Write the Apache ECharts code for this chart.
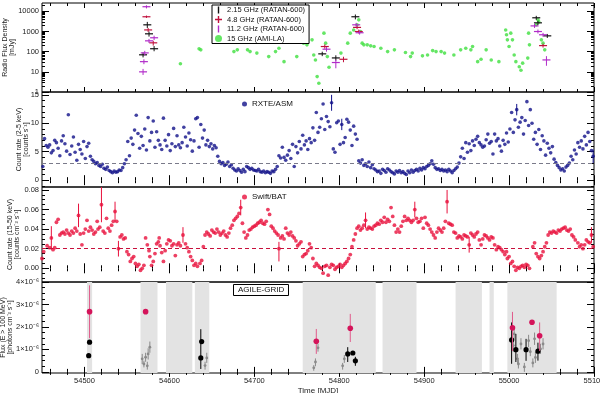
<!DOCTYPE html>
<html>
<head>
  <meta charset="utf-8">
  <title>Multiwavelength light curves</title>
  <script src="https://cdn.jsdelivr.net/npm/echarts@6/dist/echarts.min.js"></script>
  <style>
    body { margin: 0; padding: 0; background: #fff; }
    #main { width: 600px; height: 393px; }
  </style>
</head>
<body>
<div id="main"></div>
<script>
  // ---- time axis ----
  var X_MIN = 54450, X_MAX = 55100;
  var xTicks = [54500, 54600, 54700, 54800, 54900, 55000, 55100];

  // ---- radio: [MJD, flux mJy] and RATAN [MJD, flux, low, high] ----
  var ami15 = [[54613,25],[54635,138],[54637,123],[54676,101],[54680,123],[54692,123],[54695,101],[54703,85],
    [54717,57],[54725,101],[54729,148],[54735,32],[54750,57],[54758,265],[54762,218],[54768,387],[54770,69],
    [54772,39],[54774,5.8],[54776,2.7],[54782,830],[54784,265],[54786,57],[54788,17],[54802,85],[54810,265],
    [54813,830],[54817,1200],[54821,2150],[54823,3800],[54825,1000],[54827,265],[54829,218],[54833,218],
    [54837,195],[54841,180],[54849,148],[54857,101],[54865,123],[54878,91],[54884,57],[54886,85],[54898,62],
    [54904,69],[54910,113],[54914,101],[54920,101],[54924,85],[54935,69],[54943,123],[54949,148],[54955,123],
    [54957,180],[54963,32],[54967,42],[54973,123],[54979,39],[54988,32],[54996,1200],[54997,690],[54998,387],
    [55000,180],[55002,830],[55004,387],[55006,69],[55008,32],[55012,18],[55014,12],[55016,27],[55022,48],
    [55023,830],[55024,218],[55032,2150],[55034,3800],[55035,3000],[55038,387],[55040,265],[55042,123]];
  var ratan2 = [[54569,70,52,92],[54574,2150,1500,3000],[54576,770,560,1000],[54582,140,105,190],
    [54780,78,60,100],[54796,49,36,66],[54819,5400,4000,7000],[55032,4800,3800,6000],[55034,2700,2100,3400],
    [55045,610,480,760]];
  var ratan48 = [[54573,5400,4700,6200],[54575,1200,950,1500],[54581,275,200,350],[54783,180,140,230],
    [54805,42,30,56],[54821,1600,1300,2000],[54823,1000,800,1250],[55040,200,160,250]];
  var ratan112 = [[54569,10,7,14],[54570,32,24,42],[54571,87,65,110],[54573,17000,14000,20000],
    [54576,345,270,430],[54582,490,380,620],[54785,133,100,170],[54796,29,15,40],[54820,2150,1700,2700],
    [54824,870,700,1100],[55030,1900,1500,2400],[55034,1000,800,1250],[55040,690,550,860],[55044,39,20,60]];

  // ---- RXTE/ASM 2-5 keV: [MJD, counts/s] ----
  var asm = [[54451,2.4],[54453,7.3],[54455,6.1],[54457,5.8],[54459,6.2],[54461,4.8],[54463,5.2],[54465,7.0],
    [54467,6.6],[54469,5.6],[54471,4.3],[54473,6.9],[54475,7.8],[54477,6.4],[54479,5.1],[54481,11.5],[54483,4.5],
    [54485,6.0],[54487,7.6],[54489,4.9],[54491,3.5],[54493,6.3],[54495,5.4],[54497,4.6],[54499,6.8],[54501,3.8],
    [54503,5.9],[54505,6.5],[54507,4.2],[54509,3.6],[54511,3.3],[54513,2.9],[54515,3.1],[54517,2.6],[54519,2.4],
    [54521,2.8],[54523,2.1],[54525,1.9],[54527,2.3],[54529,1.7],[54531,1.5],[54533,1.3],[54535,1.6],[54537,1.4],
    [54539,1.5],[54541,1.8],[54543,1.7],[54545,2.2],[54547,2.9],[54549,3.6],[54551,6.8],[54553,4.3],[54555,7.4],
    [54557,6.3],[54559,8.8],[54561,11.4],[54563,8.2],[54565,5.6],[54567,7.7],[54569,6.1],[54571,9.0],[54573,5.3],
    [54575,11.0],[54577,6.9],[54579,8.4],[54581,10.4],[54583,5.8],[54585,8.5],[54587,7.0],[54589,6.2],[54591,5.4],
    [54593,10.9],[54595,7.0],[54597,6.0],[54599,8.0],[54601,5.2],[54603,6.4],[54605,9.1],[54607,5.9],[54609,7.8],
    [54611,6.2],[54613,5.7],[54615,6.6],[54617,9.3],[54619,7.6],[54621,6.0],[54623,8.3],[54625,7.1],[54627,5.1],
    [54629,6.9],[54631,10.8],[54633,11.0],[54635,5.8],[54637,9.8],[54639,7.4],[54641,8.8],[54643,6.2],[54645,7.0],
    [54647,5.9],[54649,6.4],[54651,5.5],[54653,6.1],[54655,5.7],[54657,4.2],[54659,3.3],[54661,2.9],[54663,3.1],
    [54665,2.6],[54667,2.8],[54669,3.2],[54671,2.4],[54673,2.7],[54675,2.1],[54677,1.8],[54679,1.6],[54681,2.0],
    [54683,1.7],[54685,1.4],[54687,1.9],[54689,1.5],[54691,2.4],[54693,2.2],[54695,1.9],[54697,2.1],[54699,1.8],
    [54701,1.7],[54703,1.6],[54705,1.9],[54707,1.5],[54709,1.4],[54711,1.6],[54713,1.3],[54715,1.5],[54717,1.4],
    [54719,1.2],[54721,1.6],[54723,1.5],[54725,1.9],[54727,2.4],[54729,4.3],[54731,3.9],[54733,5.8],[54735,4.0],
    [54737,3.5],[54739,4.4],[54741,5.2],[54743,3.8],[54745,6.3],[54747,2.4],[54749,5.9],[54751,4.8],[54753,6.8],
    [54755,5.5],[54757,7.9],[54759,6.2],[54761,6.9],[54763,5.4],[54765,7.3],[54767,6.6],[54769,9.2],[54771,7.0],
    [54773,11.9],[54775,8.4],[54777,9.3],[54779,10.8],[54781,13.4],[54783,8.9],[54785,11.2],[54787,10.3],
    [54789,9.4],[54791,13.6],[54793,5.5],[54795,4.9],[54797,10.1],[54799,10.4],[54801,6.3],[54803,9.8],[54805,6.6],
    [54807,7.5],[54809,10.7],[54811,10.2],[54813,8.8],[54815,6.1],[54817,9.5],[54819,8.1],[54821,7.2],[54823,3.4],
    [54825,3.0],[54827,3.6],[54829,2.6],[54831,2.9],[54833,2.4],[54835,3.2],[54837,2.2],[54839,2.7],[54841,2.0],
    [54843,1.8],[54845,1.5],[54847,1.6],[54849,1.2],[54851,1.9],[54853,1.7],[54855,1.4],[54857,2.0],[54859,1.8],
    [54861,1.5],[54863,1.3],[54865,1.1],[54867,1.6],[54869,1.4],[54871,1.7],[54873,1.3],[54875,1.5],[54877,1.2],
    [54879,1.0],[54881,1.6],[54883,1.3],[54885,1.8],[54887,1.4],[54889,1.7],[54891,1.9],[54893,1.6],[54895,2.1],
    [54897,1.8],[54899,2.2],[54901,2.0],[54903,2.4],[54905,2.6],[54907,2.9],[54909,3.4],[54911,2.8],[54913,2.2],
    [54915,1.9],[54917,2.0],[54919,1.7],[54921,1.9],[54923,1.6],[54925,1.8],[54927,1.5],[54929,1.9],[54931,1.6],
    [54933,1.3],[54935,1.7],[54937,2.0],[54939,2.3],[54941,3.0],[54943,4.1],[54945,5.6],[54947,3.8],[54949,6.6],
    [54951,4.9],[54953,6.4],[54955,5.2],[54957,6.9],[54959,6.1],[54961,7.2],[54963,7.7],[54965,6.6],[54967,6.2],
    [54969,5.8],[54971,6.0],[54973,7.1],[54975,8.1],[54977,6.5],[54979,6.8],[54981,4.6],[54983,8.1],[54985,6.9],
    [54987,7.3],[54989,6.0],[54991,5.1],[54993,7.0],[54995,6.3],[54997,8.3],[54999,6.7],[55001,9.0],[55003,11.9],
    [55005,8.4],[55007,10.6],[55009,12.4],[55011,9.3],[55013,10.2],[55015,11.0],[55017,8.1],[55019,10.5],
    [55021,13.8],[55023,9.6],[55025,12.4],[55027,10.0],[55029,7.2],[55031,8.4],[55033,6.3],[55035,8.9],[55037,5.4],
    [55039,7.8],[55041,6.9],[55043,4.4],[55045,6.5],[55047,5.6],[55049,4.8],[55051,5.9],[55053,3.7],[55055,3.1],
    [55057,2.6],[55059,2.2],[55061,1.8],[55063,2.0],[55065,1.6],[55067,2.3],[55069,2.6],[55071,3.0],[55073,4.2],
    [55075,3.6],[55077,5.3],[55079,4.6],[55081,6.6],[55083,5.8],[55085,6.9],[55087,5.5],[55089,7.7],[55091,6.2],
    [55093,8.4],[55095,6.8],[55097,5.2],[55099,4.2]];
  var asmErr = [[54791,13.6,12.2,15.0],[54803,9.8,8.8,10.8],[55009,12.4,11.4,13.4],[55099,4.2,3.0,5.4]];
  var asmLevel = 3;

  // ---- Swift/BAT 15-50 keV: [MJD, counts/cm2/s] ----
  var bat = [[54450,0.010],[54452,0.017],[54456,0.023],[54459,0.021],[54461,0.031],[54463,0.019],[54465,0.021],
    [54467,0.047],[54469,0.050],[54471,0.034],[54473,0.036],[54475,0.037],[54477,0.035],[54479,0.039],[54481,0.036],
    [54483,0.034],[54485,0.038],[54487,0.036],[54489,0.041],[54491,0.038],[54493,0.054],[54495,0.035],[54497,0.024],
    [54499,0.036],[54501,0.040],[54503,0.049],[54505,0.038],[54507,0.042],[54509,0.039],[54511,0.035],[54513,0.037],
    [54515,0.048],[54516,0.040],[54518,0.042],[54520,0.065],[54522,0.038],[54524,0.036],[54526,0.051],[54528,0.041],
    [54530,0.038],[54532,0.044],[54534,0.048],[54536,0.058],[54538,0.048],[54540,0.020],[54542,0.032],[54544,0.034],
    [54546,0.030],[54548,0.031],[54550,0.017],[54552,0.014],[54554,0.007],[54556,0.010],[54558,0.012],[54560,0.005],
    [54562,0.002],[54564,0.004],[54566,-0.002],[54568,0.000],[54570,0.003],[54572,0.031],[54574,0.024],[54576,0.018],
    [54577,0.012],[54579,0.003],[54581,0.007],[54583,0.015],[54585,0.025],[54587,0.027],[54588,0.031],[54589,0.023],
    [54591,0.016],[54593,0.007],[54595,0.018],[54597,0.025],[54599,0.029],[54601,0.028],[54603,0.023],[54605,0.025],
    [54607,0.013],[54609,0.024],[54611,0.026],[54613,0.023],[54616,0.034],[54619,0.025],[54621,0.021],[54623,0.017],
    [54625,0.012],[54627,0.008],[54629,0.003],[54631,0.005],[54633,0.002],[54636,0.005],[54638,0.008],[54640,0.022],
    [54642,0.034],[54644,0.037],[54646,0.035],[54648,0.033],[54650,0.039],[54652,0.037],[54654,0.036],[54656,0.040],
    [54658,0.037],[54660,0.034],[54662,0.036],[54664,0.038],[54666,0.034],[54668,0.032],[54670,0.036],[54672,0.041],
    [54674,0.044],[54676,0.049],[54678,0.051],[54680,0.053],[54682,0.056],[54684,0.062],[54686,0.046],[54688,0.037],
    [54690,0.031],[54692,0.034],[54694,0.039],[54696,0.040],[54698,0.042],[54700,0.043],[54702,0.044],[54704,0.046],
    [54706,0.047],[54708,0.049],[54710,0.046],[54712,0.045],[54714,0.048],[54716,0.060],[54718,0.055],[54720,0.043],
    [54722,0.041],[54724,0.038],[54726,0.036],[54728,0.034],[54729,0.020],[54731,0.031],[54733,0.033],[54735,0.030],
    [54737,0.041],[54739,0.036],[54741,0.034],[54743,0.037],[54745,0.033],[54747,0.031],[54749,0.028],[54751,0.023],
    [54753,0.025],[54755,0.027],[54757,0.012],[54759,0.014],[54761,0.015],[54763,0.018],[54765,0.025],[54767,0.021],
    [54769,0.010],[54771,0.002],[54773,0.005],[54775,0.003],[54777,0.001],[54779,0.000],[54781,-0.005],[54783,0.002],
    [54785,0.003],[54787,-0.007],[54789,0.001],[54791,0.004],[54793,0.003],[54795,-0.001],[54797,0.001],[54799,0.002],
    [54801,0.004],[54803,0.001],[54805,0.003],[54807,0.005],[54809,0.007],[54811,0.010],[54813,0.014],[54815,0.022],
    [54817,0.029],[54819,0.035],[54821,0.041],[54823,0.043],[54825,0.039],[54827,0.041],[54829,0.044],[54831,0.049],
    [54833,0.040],[54835,0.042],[54837,0.041],[54839,0.040],[54841,0.043],[54843,0.044],[54845,0.046],[54847,0.045],
    [54849,0.049],[54851,0.047],[54853,0.052],[54855,0.047],[54857,0.050],[54859,0.048],[54861,0.062],[54863,0.053],
    [54865,0.044],[54867,0.037],[54869,0.040],[54871,0.037],[54873,0.043],[54875,0.048],[54877,0.053],[54879,0.049],
    [54881,0.051],[54883,0.049],[54885,0.047],[54887,0.049],[54889,0.060],[54891,0.051],[54893,0.047],[54895,0.048],
    [54897,0.051],[54899,0.041],[54901,0.052],[54903,0.046],[54905,0.044],[54907,0.040],[54909,0.037],[54911,0.034],
    [54913,0.031],[54915,0.037],[54917,0.041],[54919,0.039],[54921,0.037],[54923,0.041],[54925,0.048],[54927,0.068],
    [54929,0.046],[54931,0.045],[54933,0.044],[54935,0.037],[54937,0.036],[54939,0.031],[54941,0.033],[54943,0.032],
    [54945,0.030],[54947,0.034],[54949,0.033],[54951,0.032],[54953,0.024],[54955,0.036],[54957,0.034],[54959,0.032],
    [54961,0.035],[54963,0.037],[54965,0.029],[54967,0.024],[54969,0.030],[54971,0.034],[54973,0.033],[54975,0.031],
    [54977,0.029],[54979,0.032],[54981,0.031],[54983,0.024],[54985,0.019],[54987,0.022],[54989,0.021],[54991,0.019],
    [54993,0.017],[54995,0.014],[54997,0.017],[54998,0.010],[55000,0.012],[55002,0.005],[55004,0.007],[55006,0.002],
    [55008,-0.002],[55010,0.001],[55012,0.000],[55014,0.002],[55016,0.003],[55018,0.001],[55020,0.004],[55022,0.003],
    [55024,0.000],[55028,0.022],[55030,0.026],[55032,0.015],[55034,0.012],[55036,0.010],[55038,0.013],[55040,0.017],
    [55042,0.022],[55044,0.026],[55046,0.034],[55048,0.037],[55050,0.036],[55052,0.038],[55054,0.037],[55056,0.036],
    [55058,0.039],[55060,0.038],[55062,0.040],[55064,0.041],[55066,0.042],[55068,0.039],[55070,0.038],[55072,0.040],
    [55074,0.034],[55076,0.032],[55078,0.029],[55081,0.026],[55083,0.022],[55085,0.024],[55087,0.020],[55089,0.024],
    [55091,0.029],[55093,0.027],[55095,0.026],[55097,0.034],[55099,0.022]];
  var batErr = [[54461,0.031,0.019,0.043],[54493,0.054,0.042,0.066],[54520,0.065,0.047,0.085],
    [54536,0.058,0.048,0.068],[54540,0.020,0.012,0.028],[54616,0.034,0.026,0.042],[54684,0.062,0.054,0.070],
    [54729,0.020,0.007,0.027],[54831,0.049,0.041,0.057],[54889,0.060,0.052,0.068],[54927,0.068,0.056,0.080],
    [54953,0.024,0.016,0.032],[55097,0.034,0.026,0.042]];
  var batLevel = 0.02;

  // ---- AGILE-GRID E>100 MeV, units of 1e-6: [MJD, flux, low, high] ----
  var agilePink = [[54506,2.68,1.5,3.85],[54572,2.68,2.68,2.68],[54773,1.36,0.8,1.91],[54813,1.94,1.33,2.58],
    [55004,1.96,0.93,2.67],[55027,2.21,2.21,2.21],[55036,1.61,0.93,2.2]];
  var agileBlack = [[54506,1.32,1.32,1.32],[54505,0.72,0.72,0.72],[54638,1.35,1.35,1.35],[54637,0.62,0.13,1.9],
    [54810,0.8,0.44,1.1],[54816,0.84,0.84,0.84],[54819,0.49,0.27,0.67],[55003,1.42,0.36,2.2],[55008,0.99,0.44,1.69],
    [55020,0.99,0.49,1.47],[55034,0.92,0.5,1.3]];
  var agileGray = [[54568,0.58,0.35,0.8],[54572,0.65,0.45,0.85],[54575,0.8,0.55,1.05],[54577,1.1,0.85,1.35],
    [54574,0.27,0.1,0.45],[54570,0.35,0.2,0.5],[54644,0.62,0.4,0.85],[54642,0.28,0.1,0.45],[54772,0.44,0.25,0.6],
    [54775,1.07,0.9,1.25],[54770,0.18,0.05,0.3],[54806,0.58,0.4,0.75],[54804,0.27,0.1,0.4],[55006,1.69,1.4,2.0],
    [55005,1.17,0.9,1.4],[55010,0.58,0.35,0.8],[55011,0.35,0.15,0.55],[55014,1.24,1.0,1.5],[55023,1.39,1.1,1.65],
    [55025,0.9,0.7,1.1],[55030,1.47,1.2,1.75],[55031,0.64,0.4,0.9],[55037,1.02,0.8,1.25],[55040,1.24,1.0,1.5],
    [55018,0.22,0.0,0.4],[55028,0.4,0.2,0.6]];
  var agileWindows = [[54503,54509],[54566,54586],[54596,54627],[54630,54647],[54757,54843],[54851,54891],
    [54937,54968],[54977,54982],[54998,55056]];

  // ---- y tick labels ----
  var radioTicks = [1, 10, 100, 1000, 10000];
  var asmTicks = [0, 5, 10, 15];
  var batTicks = [0, 0.02, 0.04, 0.06, 0.08];
  var agileTicks = [0, 1, 2, 3, 4];

  var FONT = 'Liberation Sans, Arial, sans-serif';

  function steps(a, b, s) {
    var out = [];
    for (var v = a; v <= b + 1e-9; v += s) out.push(+v.toFixed(6));
    return out;
  }
  var radioMinor = [];
  [1, 10, 100, 1000, 10000].forEach(function (d) {
    for (var k = 2; k <= 9; k++) if (d * k < 26000) radioMinor.push(d * k);
  });

  var grids = [
    { top: 3, height: 89 },
    { top: 92, height: 95 },
    { top: 187, height: 95 },
    { top: 282, height: 91 }
  ];
  var panels = [
    { type: 'log', min: 1, max: 26000, major: radioTicks, minor: radioMinor,
      fmt: function (v) { return String(v); }, name: 'Radio Flux Density\n[mJy]', gap: 26 },
    { type: 'value', min: -1.2, max: 15.5, major: asmTicks, minor: steps(-1, 15, 1),
      fmt: function (v) { return String(v); }, name: 'Count rate (2-5 keV)\n[counts s\u207b\u00b9]', gap: 12 },
    { type: 'value', min: -0.014, max: 0.083, major: batTicks, minor: steps(-0.01, 0.08, 0.005),
      fmt: function (v) { return v.toFixed(2); }, name: 'Count rate (15-50 keV)\n[counts cm\u207b\u00b2 s\u207b\u00b9]', gap: 21 },
    { type: 'value', min: -0.05, max: 4.0, major: agileTicks, minor: steps(0, 4, 0.25),
      fmt: function (v) { return v === 0 ? '0' : v + '\u00d710\u207b\u2076'; },
      name: 'Flux (E > 100 MeV)\n[photons cm\u207b\u00b2 s\u207b\u00b9]', gap: 28 }
  ];

  var tickLine = { color: '#000', width: 1 };
  var xAxes = [], yAxes = [];
  grids.forEach(function (g, i) {
    [['bottom', xTicks, 5], ['bottom', steps(54460, 55100, 20), 3], ['top', xTicks, 5], ['top', steps(54460, 55100, 20), 3]]
      .forEach(function (c, j) {
        var ax = {
          type: 'value', gridIndex: i, position: c[0], min: X_MIN, max: X_MAX,
          axisLine: { show: false }, splitLine: { show: false },
          axisTick: { inside: true, length: c[2], customValues: c[1], lineStyle: tickLine },
          axisLabel: { show: false }
        };
        if (i === 3 && j === 0) {
          ax.axisLabel = { show: true, customValues: xTicks, fontSize: 7.5, color: '#222', fontFamily: FONT, margin: 4,
            formatter: function (v) { return String(v); } };
          ax.name = 'Time [MJD]';
          ax.nameLocation = 'middle';
          ax.nameGap = 14;
          ax.nameMoveOverlap = false;
          ax.nameTextStyle = { fontSize: 8, color: '#222', fontFamily: FONT };
        }
        xAxes.push(ax);
      });
    var p = panels[i];
    [['left', p.major, 7], ['left', p.minor, 3], ['right', p.major, 7], ['right', p.minor, 3]]
      .forEach(function (c, j) {
        var ax = {
          type: p.type, gridIndex: i, position: c[0], min: p.min, max: p.max,
          axisLine: { show: false }, splitLine: { show: false },
          axisTick: { inside: true, length: c[2], customValues: c[1], lineStyle: tickLine },
          axisLabel: { show: false }
        };
        if (p.type === 'log') ax.logBase = 10;
        if (j === 0) {
          ax.axisLabel = { show: true, customValues: p.major, formatter: p.fmt, fontSize: 7.5, color: '#222',
            fontFamily: FONT, margin: 3 };
          ax.name = p.name;
          ax.nameLocation = 'middle';
          ax.nameRotate = 90;
          ax.nameGap = p.gap;
          ax.nameMoveOverlap = false;
          ax.nameTextStyle = { fontSize: 7, lineHeight: 7, color: '#222', fontFamily: FONT };
        }
        yAxes.push(ax);
      });
  });

  // error bar / cross marks drawn through the axis scales
  function errMark(color, opt) {
    return function (params, api) {
      var x = api.value(0);
      var c = api.coord([x, api.value(1)]);
      var lo = api.coord([x, api.value(2)]);
      var hi = api.coord([x, api.value(3)]);
      var kids = [];
      if (Math.abs(lo[1] - hi[1]) > 0.5) {
        kids.push({ type: 'line', shape: { x1: c[0], y1: lo[1], x2: c[0], y2: hi[1] },
          style: { stroke: opt.barColor || color, lineWidth: opt.lw || 1 } });
      }
      if (opt.cross) {
        kids.push({ type: 'line', shape: { x1: c[0] - opt.cross, y1: c[1], x2: c[0] + opt.cross, y2: c[1] },
          style: { stroke: color, lineWidth: 1.2 } });
      }
      if (opt.r) {
        kids.push({ type: 'circle', shape: { cx: c[0], cy: c[1], r: opt.r }, style: { fill: color } });
      }
      return { type: 'group', children: kids };
    };
  }
  function errSeries(name, data, gi, color, opt) {
    return {
      name: name, type: 'custom', coordinateSystem: 'cartesian2d', xAxisIndex: gi * 4, yAxisIndex: gi * 4,
      data: data, encode: { x: 0, y: 1 }, clip: true, itemStyle: { color: color },
      renderItem: errMark(color, opt), z: opt.z || 3
    };
  }

  var C = {
    ami: '#3ee03e', r2: '#111111', r48: '#c0103c', r112: '#b12bc9',
    asm: '#11118a', bat: '#e8103c', pink: '#d4145a', gray: '#8a8a8a', band: '#e3e3e3'
  };

  var series = [
    { name: '15 GHz (AMI-LA)', type: 'scatter', xAxisIndex: 0, yAxisIndex: 0, data: ami15,
      symbolSize: 3.6, itemStyle: { color: C.ami }, z: 2 },
    errSeries('2.15 GHz (RATAN-600)', ratan2, 0, C.r2, { cross: 4 }),
    errSeries('4.8 GHz (RATAN-600)', ratan48, 0, C.r48, { cross: 4 }),
    errSeries('11.2 GHz (RATAN-600)', ratan112, 0, C.r112, { cross: 4 }),

    { name: 'RXTE/ASM', type: 'scatter', xAxisIndex: 4, yAxisIndex: 4, data: asm,
      symbolSize: 3.6, itemStyle: { color: C.asm },
      markLine: { silent: true, symbol: 'none', label: { show: false },
        lineStyle: { type: [4, 3], color: '#7a7a8a', width: 1 }, data: [{ yAxis: asmLevel }] } },
    errSeries('asmErr', asmErr, 1, C.asm, {}),

    { name: 'Swift/BAT', type: 'scatter', xAxisIndex: 8, yAxisIndex: 8, data: bat,
      symbolSize: 3.8, itemStyle: { color: C.bat },
      markLine: { silent: true, symbol: 'none', label: { show: false },
        lineStyle: { type: [4, 3], color: '#c8103c', width: 1.2 }, data: [{ yAxis: batLevel }] } },
    errSeries('batErr', batErr, 2, C.bat, {}),

    { name: 'windows', type: 'scatter', xAxisIndex: 12, yAxisIndex: 12, data: [], silent: true,
      markArea: { silent: true, itemStyle: { color: C.band },
        data: agileWindows.map(function (w) { return [{ xAxis: w[0] }, { xAxis: w[1] }]; }) }, z: 1 },
    errSeries('agileGray', agileGray, 3, C.gray, { r: 1.4, z: 3 }),
    errSeries('agileBlack', agileBlack, 3, '#000', { r: 2.6, z: 4 }),
    errSeries('agilePink', agilePink, 3, C.pink, { r: 2.8, barColor: '#e05a8a', z: 5 })
  ];

  var chart = echarts.init(document.getElementById('main'));
  chart.setOption({
    animation: false,
    backgroundColor: '#fff',
    textStyle: { fontFamily: FONT },
    grid: grids.map(function (g) {
      return { left: 42, right: 6, top: g.top, height: g.height, show: true, containLabel: false,
        outerBoundsMode: 'none', borderColor: '#000', borderWidth: 1, backgroundColor: 'transparent' };
    }),
    xAxis: xAxes,
    yAxis: yAxes,
    title: {
      text: 'AGILE-GRID', left: 233, top: 284, padding: [2, 5],
      borderColor: '#000', borderWidth: 1, backgroundColor: '#fff',
      textStyle: { fontSize: 8, fontWeight: 'normal', color: '#111', fontFamily: FONT }
    },
    legend: [
      { left: 212, top: 5, orient: 'vertical', itemGap: 1.5, itemWidth: 7, itemHeight: 7, selectedMode: false,
        padding: [1, 4, 1, 3], borderColor: '#000', borderWidth: 1, backgroundColor: '#fff',
        textStyle: { fontSize: 7.5, color: '#111', fontFamily: FONT },
        data: [
          { name: '2.15 GHz (RATAN-600)', icon: 'path://M4,0H6V10H4Z' },
          { name: '4.8 GHz (RATAN-600)', icon: 'path://M4,0H6V4H10V6H6V10H4V6H0V4H4Z' },
          { name: '11.2 GHz (RATAN-600)', icon: 'path://M4,0H6V10H4Z' },
          { name: '15 GHz (AMI-LA)', icon: 'circle' }
        ] },
      { left: 240, top: 98, itemWidth: 5, itemHeight: 5, selectedMode: false, padding: 2,
        textStyle: { fontSize: 8, color: '#111', fontFamily: FONT },
        data: [{ name: 'RXTE/ASM', icon: 'circle' }] },
      { left: 240, top: 191, itemWidth: 5, itemHeight: 5, selectedMode: false, padding: 2,
        textStyle: { fontSize: 8, color: '#111', fontFamily: FONT },
        data: [{ name: 'Swift/BAT', icon: 'circle' }] }
    ],
    series: series
  });
</script>
</body>
</html>
